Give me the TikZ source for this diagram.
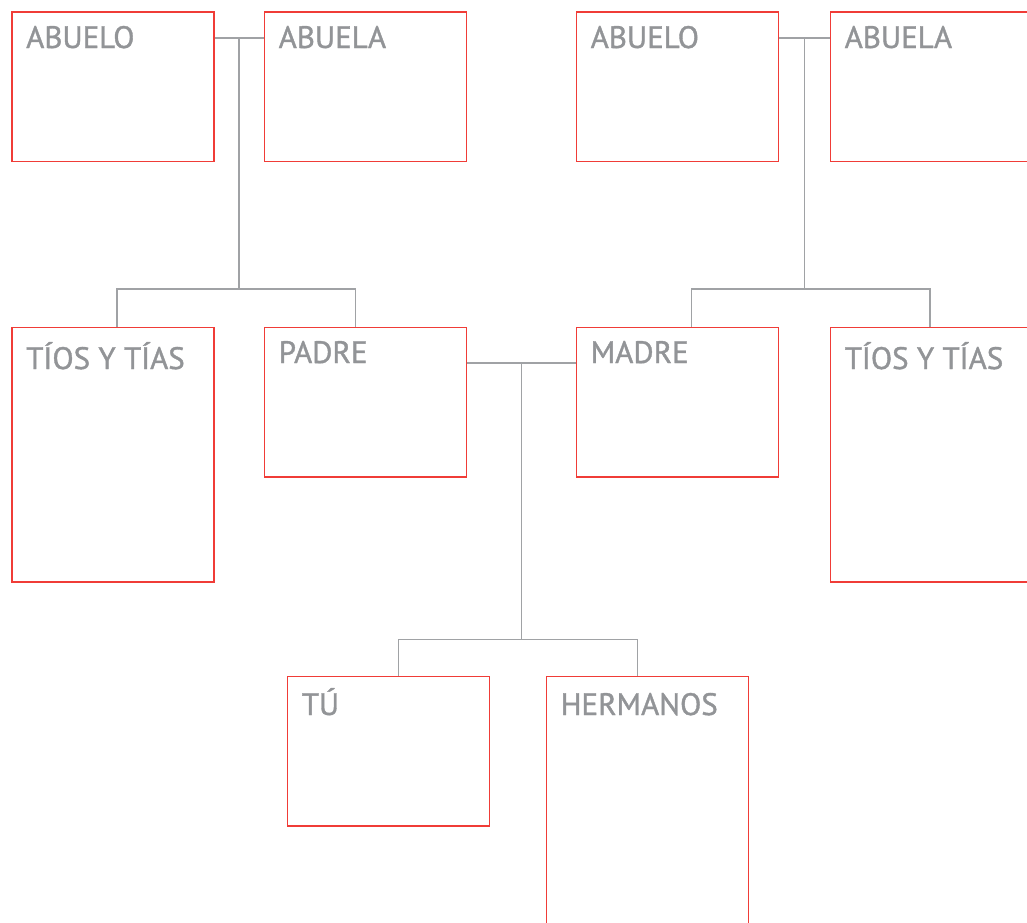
\documentclass[tikz,border=0pt]{standalone}
\usepackage{fontspec}
\setmainfont{PT Sans}
\newfontfamily\labfont{PT Sans}[BoldFont={PT Sans}, BoldFeatures={FakeBold=1.2}]
\usetikzlibrary{calc}
\definecolor{boxred}{RGB}{240,60,55}
\definecolor{linegray}{RGB}{160,162,165}
\definecolor{txtgray}{RGB}{146,148,151}
\begin{document}
\begin{tikzpicture}[x=1pt,y=-1pt,
  famBox/.style={draw=boxred, line width=1.8pt, minimum width=202pt, inner sep=0pt, anchor=north west, fill=white},
  shortBox/.style={famBox, minimum height=149.5pt},
  tallBox/.style={famBox, minimum height=254.5pt},
  lab/.style={anchor=base west, inner sep=0pt, text=txtgray, font=\labfont\bfseries\fontsize{31}{31}\selectfont},
  conn/.style={draw=linegray, line width=1.4pt}]
\useasboundingbox (0,0) rectangle (1027,922);
\clip (0,0) rectangle (1027,922);
\fill[white] (0,0) rectangle (1027,922);
% boxes
\node[shortBox] (aL) at (11,11) {};
\node[shortBox] (bL) at (263.5,11) {};
\node[shortBox] (aR) at (575.5,11) {};
\node[shortBox] (bR) at (829.5,11) {};
\node[tallBox]  (tL) at (11,326.5) {};
\node[shortBox] (pa) at (263.5,326.5) {};
\node[shortBox] (ma) at (575.5,326.5) {};
\node[tallBox]  (tR) at (829.5,326.5) {};
\node[shortBox] (tu) at (286.5,675.5) {};
\node[tallBox]  (he) at (545.5,675.5) {};
% labels
\node[lab] (laL) at ([xshift=15pt,yshift=-37pt]aL.north west) {ABUELO};
\node[lab] (lbL) at ([xshift=15pt,yshift=-37pt]bL.north west) {ABUELA};
\node[lab] (laR) at ([xshift=15pt,yshift=-37pt]aR.north west) {ABUELO};
\node[lab] (lbR) at ([xshift=15pt,yshift=-37pt]bR.north west) {ABUELA};
\node[lab] (ltL) at ([xshift=15pt,yshift=-42.5pt]tL.north west) {TÍOS Y TÍAS};
\node[lab] (lpa) at ([xshift=15pt,yshift=-36.5pt]pa.north west) {PADRE};
\node[lab] (lma) at ([xshift=15pt,yshift=-36.5pt]ma.north west) {MADRE};
\node[lab] (ltR) at ([xshift=15pt,yshift=-42.5pt]tR.north west) {TÍOS Y TÍAS};
\node[lab] (ltu) at ([xshift=15pt,yshift=-39.5pt]tu.north west) {TÚ};
\node[lab] (lhe) at ([xshift=15pt,yshift=-39.5pt]he.north west) {HERMANOS};
% left grandparents
\draw[conn] ([yshift=-27pt]aL.north east) -- ([yshift=-27pt]bL.north west);
\coordinate (cL) at ($([yshift=-27pt]aL.north east)!0.5!([yshift=-27pt]bL.north west)$);
\draw[conn] (cL) -- ++(0,251);
\draw[conn] ([xshift=106pt]tL.north west) -- ++(0,-37.5) -| ([xshift=92pt]pa.north west);
% right grandparents
\draw[conn] ([yshift=-27pt]aR.north east) -- ([yshift=-27pt]bR.north west);
\coordinate (cR) at ($([yshift=-27pt]aR.north east)!0.5!([yshift=-27pt]bR.north west)$);
\draw[conn] (cR) -- ++(0,251);
\draw[conn] ([xshift=116pt]ma.north west) -- ++(0,-37.5) -| ([xshift=100.5pt]tR.north west);
% parents
\draw[conn] ([yshift=-36.5pt]pa.north east) -- ([yshift=-36.5pt]ma.north west);
\coordinate (cM) at ($([yshift=-36.5pt]pa.north east)!0.5!([yshift=-36.5pt]ma.north west)$);
\draw[conn] (cM) -- ++(0,277);
\draw[conn] ([xshift=112pt]tu.north west) -- ++(0,-36) -| ([xshift=92pt]he.north west);
\end{tikzpicture}
\end{document}
